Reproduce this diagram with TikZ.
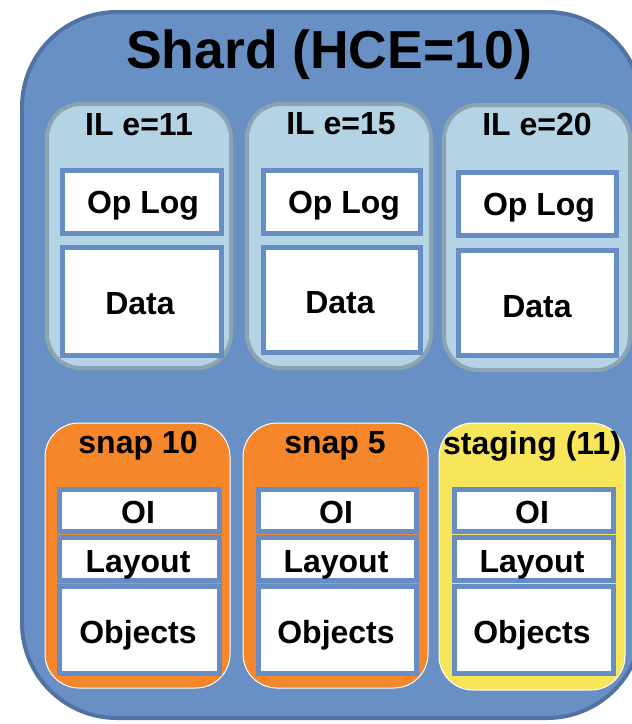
\documentclass[tikz,border=0pt]{standalone}
\usepackage{fontspec}
\setmainfont{Liberation Sans}
\usetikzlibrary{fit}
\definecolor{shardfill}{RGB}{104,144,196}
\definecolor{shardline}{RGB}{80,115,163}
\definecolor{ilfill}{RGB}{180,212,230}
\definecolor{illine}{RGB}{140,164,178}
\definecolor{cellline}{RGB}{102,142,197}
\definecolor{snapfill}{RGB}{245,134,42}
\definecolor{stagefill}{RGB}{247,230,90}
\begin{document}
\begin{tikzpicture}[x=1pt,y=-1pt,
  txt/.style={font=\fontsize{32}{37}\selectfont\bfseries, anchor=base, inner sep=0pt},
  titletxt/.style={font=\fontsize{53.5}{60}\selectfont\bfseries, anchor=base, inner sep=0pt},
  shardbox/.style={draw=shardline, fill=shardfill, line width=4pt, rounded corners=95pt, inner sep=0pt},
  ilbox/.style={draw=illine, fill=ilfill, line width=4pt, rounded corners=34pt, inner sep=0pt},
  cellbox/.style={draw=cellline, fill=white, line width=5pt, inner sep=0pt},
  snapbox/.style={draw=white, fill=snapfill, line width=1pt, rounded corners=34pt, inner sep=0pt},
  stagebox/.style={snapbox, fill=stagefill}]
\useasboundingbox (0,0) rectangle (632,724);
\clip (0,0) rectangle (632,724);

% shard container and its title
\node[shardbox, fit={(22,12) (642,718)}] (shard) {};
\node[titletxt] (title) at (329,68) {Shard (HCE=10)};

% interval logs
\node[ilbox, fit={(47,104) (231,368)}] (il1) {};
\node[ilbox, fit={(247,104) (431,368)}] (il2) {};
\node[ilbox, fit={(444,105) (630,370)}] (il3) {};
\node[txt] (il1t) at (139,135) {IL e=11};
\node[txt] (il2t) at (341,134) {IL e=15};
\node[txt] (il3t) at (537,135) {IL e=20};

\node[cellbox, fit={(62,170) (221,233)}] (op1) {};
\node[cellbox, fit={(263,170) (420,233)}] (op2) {};
\node[cellbox, fit={(458,172) (616,235)}] (op3) {};
\node[txt] (op1t) at (143,213) {Op Log};
\node[txt] (op2t) at (344,213) {Op Log};
\node[txt] (op3t) at (539,215) {Op Log};

\node[cellbox, fit={(62,247) (221,355)}] (d1) {};
\node[cellbox, fit={(263,247) (420,352)}] (d2) {};
\node[cellbox, fit={(458,250) (616,355)}] (d3) {};
\node[txt] (d1t) at (140,314) {Data};
\node[txt] (d2t) at (340,313) {Data};
\node[txt] (d3t) at (537,317) {Data};

% snapshots and staging area
\node[snapbox, fit={(45,423) (230,688)}] (s10) {};
\node[snapbox, fit={(243,423) (428,688)}] (s5) {};
\node[stagebox, fit={(439,423) (625,690)}] (stg) {};
\node[txt] (s10t) at (138,453) {snap 10};
\node[txt] (s5t) at (335,453) {snap 5};
\node[txt] (stgt) at (532,454) {staging (11)};

\foreach \n/\xa/\xb/\cx in {a/59/219/138, b/258/416/336, c/454/613/532}{
  \node[cellbox, fit={(\xa,489) (\xb,531)}] (oi\n) {};
  \node[cellbox, fit={(\xa,537) (\xb,580)}] (lay\n) {};
  \node[cellbox, fit={(\xa,586) (\xb,673)}] (obj\n) {};
  \node[txt] (oi\n t) at (\cx,523) {OI};
  \node[txt] (lay\n t) at (\cx,572) {Layout};
  \node[txt] (obj\n t) at (\cx,643) {Objects};
}
\end{tikzpicture}
\end{document}
